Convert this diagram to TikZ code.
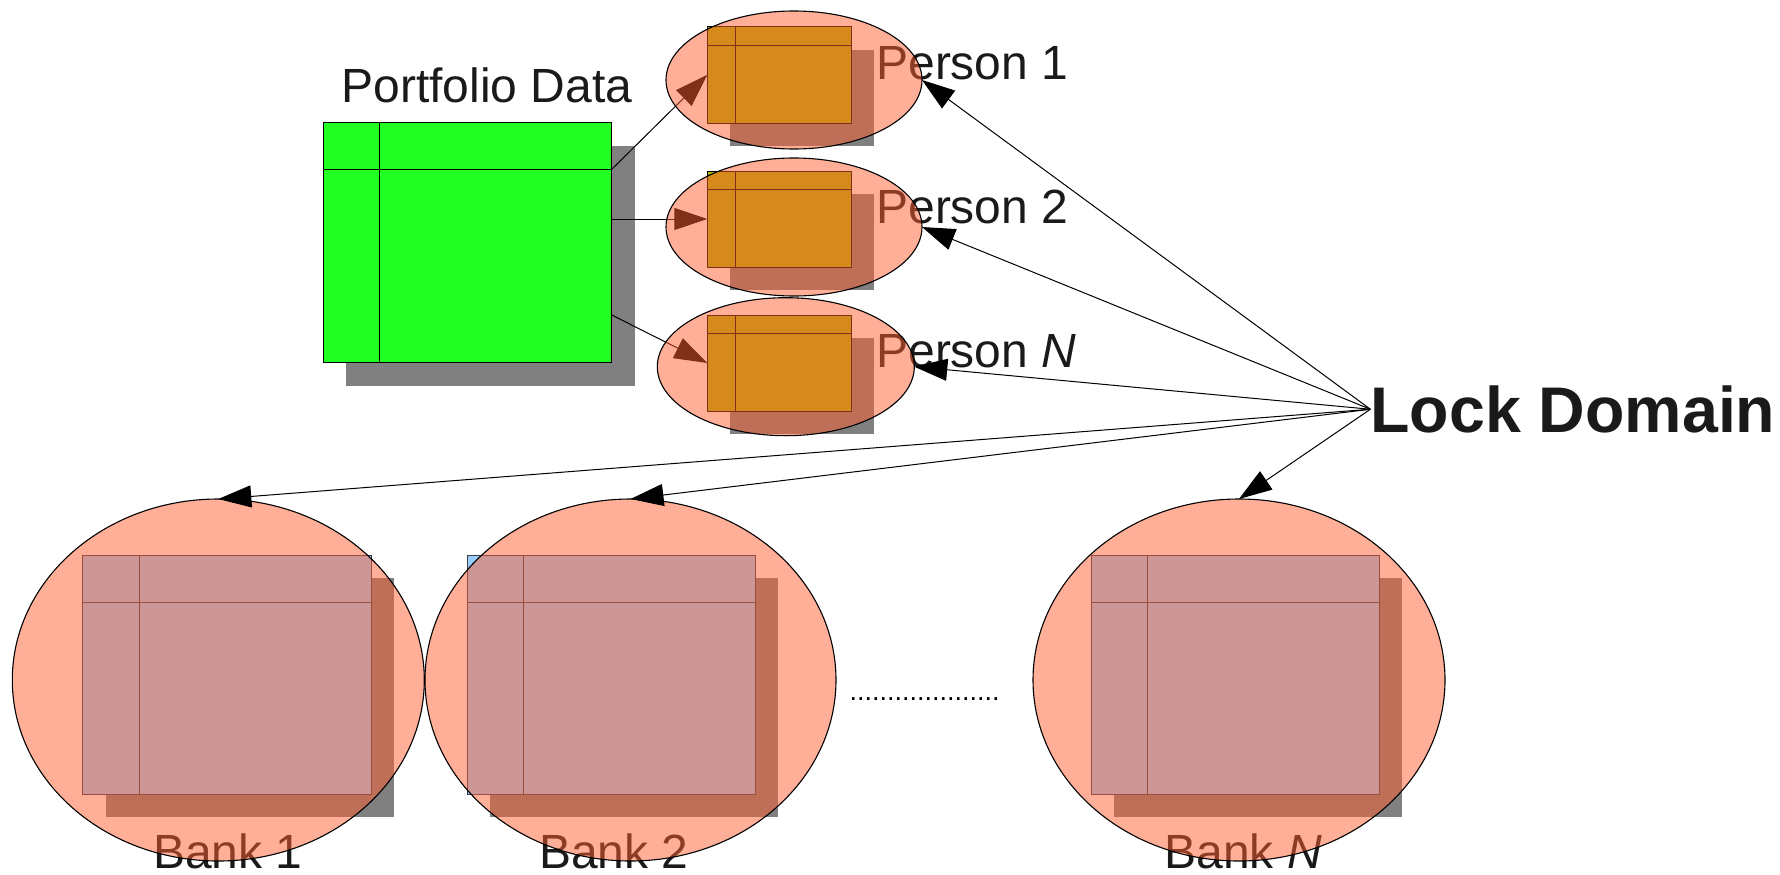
\documentclass[tikz,border=0pt]{standalone}
\usepackage{fontspec}
\setmainfont{Liberation Sans}
\usetikzlibrary{shapes.geometric,arrows.meta}

\definecolor{txt}{RGB}{26,26,26}
\definecolor{shadowgray}{RGB}{128,128,128}
\definecolor{portfoliogreen}{RGB}{34,255,34}
\definecolor{persontab}{RGB}{176,182,8}
\definecolor{banktab}{RGB}{153,206,254}
\definecolor{banklines}{RGB}{60,60,70}
\definecolor{zonefill}{RGB}{255,95,49}

% table with a drop shadow, header row and key column
% #1 name, #2 x, #3 y (top left), #4 width, #5 height, #6 fill, #7 line colour, #8 header height, #9 column width
\newcommand{\dbtab}[9]{%
  \fill[shadowgray] (#2+23,#3+23) rectangle ++(#4,#5);
  \node[tabbox, fill=#6, draw=#7, minimum width=#4pt, minimum height=#5pt, anchor=north west] (#1) at (#2,#3) {};
  \draw[#7, line width=1pt] ([yshift=-#8pt]#1.north west) -- ([yshift=-#8pt]#1.north east);
  \draw[#7, line width=1pt] ([xshift=#9pt]#1.north west) -- ([xshift=#9pt]#1.south west);
}

\tikzset{
  tabbox/.style={rectangle, inner sep=0pt, outer sep=0pt, line width=1pt},
  lockzone/.style={ellipse, draw=black, line width=1.1pt, fill=zonefill, fill opacity=0.5, inner sep=0pt, outer sep=0pt},
  caption/.style={text=txt, inner sep=0pt, outer sep=0pt, font=\fontsize{48}{56}\selectfont},
  feed/.style={draw=black, line width=1pt, -{Triangle[length=33pt,width=22pt]}},
}

\begin{document}
\begin{tikzpicture}[x=1pt,y=-1pt]
\useasboundingbox (0,0) rectangle (1780,875);

% portfolio table
\dbtab{g}{323.3}{122.7}{288.4}{240}{portfoliogreen}{black}{46.6}{56}
\node[caption, anchor=base west] (ptitle) at (341.5,102.7) {Portfolio Data};

% person tables
\dbtab{t1}{707.3}{26.7}{144}{96.3}{persontab}{black}{18.6}{28.4}
\dbtab{t2}{707.3}{171}{144}{96}{persontab}{black}{18.6}{28.4}
\dbtab{tN}{707.3}{315}{144}{96}{persontab}{black}{18.6}{28.4}

% bank tables
\dbtab{k1}{82.7}{555}{288.6}{239.3}{banktab}{banklines}{47}{56.6}
\dbtab{k2}{467.3}{555}{288}{239.3}{banktab}{banklines}{47}{56.4}
\dbtab{kN}{1091.3}{555}{288}{239.3}{banktab}{banklines}{47}{56.4}

% captions lying under the lock zones
\node[caption, anchor=base west] (l1) at (876.3,79.3) {Person 1};
\node[caption, anchor=base west] (l2) at (876.3,223.3) {Person 2};
\node[caption, anchor=base west] (lN) at (876.3,367.7) {Person \textit{N}};
\node[caption, anchor=base] (m1) at (228,868.5) {Bank 1};
\node[caption, anchor=base] (m2) at (614,868.5) {Bank 2};
\node[caption, anchor=base] (mN) at (1243,868.5) {Bank \textit{N}};

% portfolio data split to each person
\draw[feed] ([yshift=-46.6pt]g.north east) -- (t1.west);
\draw[feed] ([yshift=-96.3pt]g.north east) -- (t2.west);
\draw[feed] ([yshift=-192.3pt]g.north east) -- (tN.west);

% lock zones
\node[lockzone, minimum width=256pt, minimum height=138pt] (p1) at (794,80) {};
\node[lockzone, minimum width=256pt, minimum height=138pt] (p2) at (794,227) {};
\node[lockzone, minimum width=257pt, minimum height=138pt] (pN) at (785.8,366.7) {};
\node[lockzone, minimum width=412pt, minimum height=362pt] (b1) at (218.3,680) {};
\node[lockzone, minimum width=411pt, minimum height=362pt] (b2) at (630.5,680) {};
\node[lockzone, minimum width=412pt, minimum height=362pt] (bN) at (1239,680) {};

% ellipsis between bank 2 and bank N
\node[text=black, inner sep=0pt, anchor=base west, font=\fontsize{27}{30}\selectfont] (dots) at (849.3,700.8) {....................};

% lock domain title and its connectors
\node[text=txt, inner sep=0pt, outer sep=0pt, anchor=base west, font=\fontsize{64.5}{70}\selectfont\bfseries] (ld) at (1370.4,432.3) {Lock Domain};

\draw[feed] (ld.west) -- (p1.east);
\draw[feed] (ld.west) -- (p2.east);
\draw[feed] (ld.west) -- (pN.east);
\draw[feed] (ld.west) -- (b1.north);
\draw[feed] (ld.west) -- (b2.north);
\draw[feed] (ld.west) -- (bN.north);
\end{tikzpicture}
\end{document}
